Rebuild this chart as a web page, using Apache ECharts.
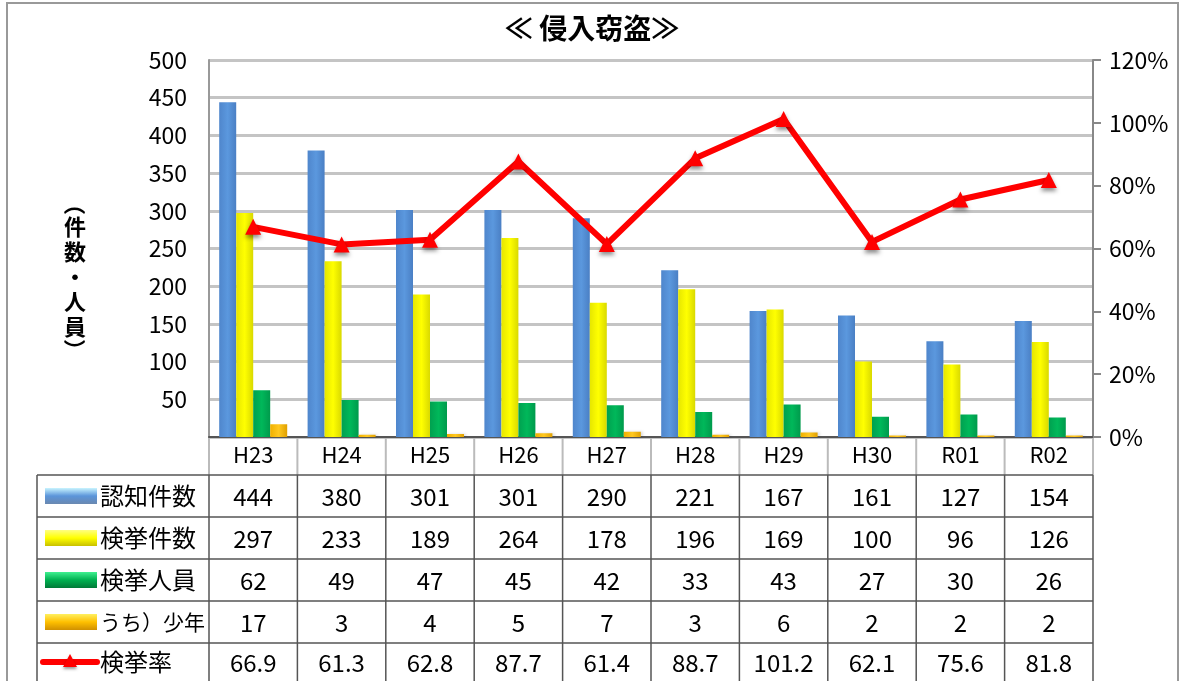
<!DOCTYPE html>
<html><head><meta charset="utf-8">
<script src="https://cdn.jsdelivr.net/npm/echarts@6/dist/echarts.min.js"></script>
<style>html,body{margin:0;padding:0;background:#fff}#c{width:1184px;height:681px}</style>
</head><body><div id="c"></div>
<script>
const categories = ['H23','H24','H25','H26','H27','H28','H29','H30','R01','R02'];
const ninchi = [444,380,301,301,290,221,167,161,127,154];
const kenkyoKensu = [297,233,189,264,178,196,169,100,96,126];
const kenkyoJinin = [62,49,47,45,42,33,43,27,30,26];
const shonen = [17,3,4,5,7,3,6,2,2,2];
const kenkyoRitsu = [66.9,61.3,62.8,87.7,61.4,88.7,101.2,62.1,75.6,81.8];
const seriesNames = ['認知件数','検挙件数','検挙人員','うち）少年','検挙率'];
const leftTicks = [0,500,50];
const rightTicks = [0,120,20];

const FONT = '"Noto Sans CJK JP", "Noto Sans", sans-serif';
const G = {left:209, right:91, top:60, bottom:244};
const chart = echarts.init(document.getElementById('c'));

function hGrad(c1,c2,c3){return new echarts.graphic.LinearGradient(0,0,1,0,[{offset:0,color:c1},{offset:0.5,color:c2},{offset:1,color:c3}]);}
function vGrad(c1,c2,c3){return new echarts.graphic.LinearGradient(0,0,0,1,[{offset:0,color:c1},{offset:0.5,color:c2},{offset:1,color:c3}]);}
const colBlue = hGrad('#4f86cc','#5b98de','#4a7fc4');
const colYellow = hGrad('#e6e600','#ffff00','#d9d900');
const colGreen = hGrad('#00a050','#00b85a','#009a4c');
const colOrange = hGrad('#f0b000','#ffc820','#e0a000');

function barSeries(name,data,color){
  return {name, type:'bar', data, barWidth:17, barGap:'0%', barCategoryGap:'23%',
    itemStyle:{color, shadowColor:'rgba(0,0,0,0.15)', shadowBlur:3, shadowOffsetX:2},
    z:2};
}

chart.setOption({
  animation:false,
  backgroundColor:'#fff',
  title:{text:'≪ 侵入窃盗≫', left:'center', top:9, textStyle:{fontFamily:FONT, fontSize:28, fontWeight:'bold', color:'#000'}},
  grid:G,
  xAxis:{type:'category', data:categories, axisLine:{show:true,lineStyle:{color:'#555',width:2}}, axisTick:{show:false},
    axisLabel:{fontFamily:FONT, fontSize:22, color:'#000', margin:7}},
  yAxis:[
    {type:'value', min:leftTicks[0], max:leftTicks[1], interval:leftTicks[2],
     axisLine:{show:true, lineStyle:{color:'#999',width:2}}, axisTick:{show:false},
     axisLabel:{fontFamily:FONT, fontSize:23, color:'#000', margin:22, formatter:v=>v===0?'':v},
     splitLine:{lineStyle:{color:'#c4c4c4',width:3}}},
    {type:'value', min:rightTicks[0], max:rightTicks[1], interval:rightTicks[2], position:'right',
     axisLine:{show:true, lineStyle:{color:'#888',width:2}}, axisTick:{show:true, length:8, lineStyle:{color:'#888',width:2}},
     axisLabel:{fontFamily:FONT, fontSize:23, color:'#000', margin:16, formatter:v=>v+'%'},
     splitLine:{show:false}}
  ],
  series:[
    barSeries(seriesNames[0], ninchi, colBlue),
    barSeries(seriesNames[1], kenkyoKensu, colYellow),
    barSeries(seriesNames[2], kenkyoJinin, colGreen),
    barSeries(seriesNames[3], shonen, colOrange),
    {name:seriesNames[4], type:'line', yAxisIndex:1, data:kenkyoRitsu, symbol:'triangle', symbolSize:16,
     lineStyle:{color:'#ff0000', width:6}, itemStyle:{color:'#ff0000', shadowColor:'rgba(0,0,0,0.45)', shadowBlur:4, shadowOffsetY:3}, z:5}
  ]
});

const plotL = G.left, plotR = 1184 - G.right, axisY = 681 - G.bottom;
const colW = (plotR - plotL) / categories.length;
const tableL = 37;
const rowYs = [475, 517, 559, 601, 643, 681];
const rows = [ninchi, kenkyoKensu, kenkyoJinin, shonen, kenkyoRitsu.map(v=>v.toFixed(1))];
const swatches = [vGrad('#c8f4ff','#5b95da','#6a88b0'), vGrad('#ffff80','#ffff00','#c8c000'), vGrad('#40f090','#00b050','#007a38'), vGrad('#fff060','#ffc000','#d09000')];
const g = [];
g.push({type:'rect', shape:{x:7,y:3,width:1171,height:690}, style:{fill:'none', stroke:'#999', lineWidth:2}, z:-1});
for (let i=0;i<=categories.length;i++){
  const x = plotL + i*colW;
  g.push({type:'line', shape:{x1:x,y1:axisY,x2:x,y2:rowYs[0]}, style:{stroke:'#bbb', lineWidth:2}});
  g.push({type:'line', shape:{x1:x,y1:rowYs[0],x2:x,y2:681}, style:{stroke:'#555', lineWidth:1.5}});
}
g.push({type:'line', shape:{x1:tableL,y1:rowYs[0],x2:tableL,y2:681}, style:{stroke:'#555', lineWidth:1.5}});
for (let r=0;r<5;r++){
  g.push({type:'line', shape:{x1:tableL,y1:rowYs[r],x2:plotR,y2:rowYs[r]}, style:{stroke:'#555', lineWidth:1.5}});
  const cy = (rowYs[r]+rowYs[r+1])/2;
  rows[r].forEach((v,i)=>{
    g.push({type:'text', x:plotL + (i+0.5)*colW, y:cy+1, style:{text:String(v), font:'24px '+FONT, fill:'#000', align:'center', verticalAlign:'middle'}});
  });
  g.push({type:'text', x:100, y:cy, style:{text:seriesNames[r], font:(r===3?'21px ':'24px ')+FONT, fill:'#000', align:'left', verticalAlign:'middle'}});
  if (r<4){
    g.push({type:'rect', shape:{x:45,y:cy-8,width:52,height:16}, style:{fill:swatches[r]}});
  } else {
    g.push({type:'line', shape:{x1:43,y1:cy,x2:97,y2:cy}, style:{stroke:'#ff0000', lineWidth:6, lineCap:'round'}});
    g.push({type:'polygon', shape:{points:[[70,cy-8],[63,cy+5],[77,cy+5]]}, style:{fill:'#ff0000', shadowColor:'rgba(0,0,0,0.4)', shadowBlur:3, shadowOffsetY:2}});
  }
}
// vertical y-axis title
g.push({type:'text', x:75, y:277, style:{text:'件\n数\n・\n人\n員', font:'bold 22px '+FONT, fill:'#000', align:'center', verticalAlign:'middle', lineHeight:25}});
g.push({type:'text', x:75, y:204, rotation:-Math.PI/2, style:{text:'（', font:'bold 22px '+FONT, fill:'#000', align:'center', verticalAlign:'middle'}});
g.push({type:'text', x:75, y:350, rotation:-Math.PI/2, style:{text:'）', font:'bold 22px '+FONT, fill:'#000', align:'center', verticalAlign:'middle'}});
chart.setOption({graphic:g});
</script></body></html>
